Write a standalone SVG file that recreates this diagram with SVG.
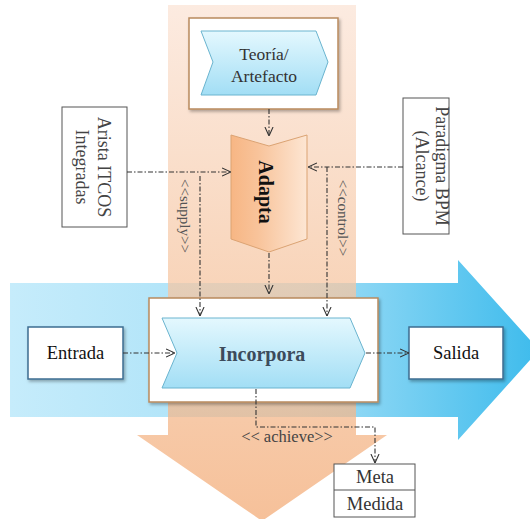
<svg xmlns="http://www.w3.org/2000/svg" width="530" height="519" viewBox="0 0 530 519" font-family="'Liberation Serif', 'DejaVu Serif', 'Times New Roman', serif">
<style>
text{font-family:"Liberation Serif","DejaVu Serif","Times New Roman",serif;}
.con{fill:none;stroke:#333;stroke-width:1.1;stroke-dasharray:5 2 1.5 2;marker-end:url(#arr);}
.outer{fill:#fff;stroke:#b98a5e;stroke-width:1.5;filter:url(#sh);}
.chev{fill:url(#gChev);stroke:#6ab4cf;stroke-width:1;}
.io{fill:#fff;stroke:#3d6d91;stroke-width:1.5;filter:url(#sh);}
.plain{fill:#fff;stroke:#555;stroke-width:1;}
.lbl{font-size:15px;fill:#555;text-anchor:middle;}
.rot{font-size:18px;fill:#444;text-anchor:middle;}
</style>
<defs>
<linearGradient id="gBlue" x1="10" y1="0" x2="540" y2="0" gradientUnits="userSpaceOnUse">
<stop offset="0" stop-color="#c6ecfb"/><stop offset="0.55" stop-color="#a3dff7"/><stop offset="1" stop-color="#3dbbec"/>
</linearGradient>
<linearGradient id="gOrange" x1="0" y1="5" x2="0" y2="519" gradientUnits="userSpaceOnUse">
<stop offset="0" stop-color="#fbe4d6"/><stop offset="0.55" stop-color="#f6c6a2"/><stop offset="1" stop-color="#f3ac78"/>
</linearGradient>
<linearGradient id="gChev" x1="0" y1="0" x2="0" y2="1">
<stop offset="0" stop-color="#e4f8fe"/><stop offset="1" stop-color="#a2def5"/>
</linearGradient>
<linearGradient id="gAdapta" x1="0" y1="0" x2="1" y2="0">
<stop offset="0" stop-color="#f7b684"/><stop offset="0.35" stop-color="#f8c39a"/><stop offset="1" stop-color="#fde6d3"/>
</linearGradient>
<filter id="sh" x="-10%" y="-10%" width="125%" height="130%">
<feDropShadow dx="1.5" dy="2" stdDeviation="1.5" flood-color="#000" flood-opacity="0.3"/>
</filter>
<marker id="arr" viewBox="0 0 10 10" refX="10" refY="5" markerWidth="9" markerHeight="10" markerUnits="userSpaceOnUse" orient="auto">
<path d="M0,0.5 L10,5 L0,9.5" fill="none" stroke="#333" stroke-width="1.2"/>
</marker>
</defs>

<g id="background">
<path d="M10,283 H458 V260 L539,350 L458,440 V417 H10 Z" fill="url(#gBlue)"/>
<path d="M168,5 H356 V435 H387 L262,521 L137,435 H168 Z" fill="url(#gOrange)" opacity="0.75"/>
</g>

<g id="teoria">
<rect class="outer" x="189" y="18" width="149" height="91"/>
<polygon class="chev" points="201,31 316,31 328,62 316,95 201,95 213,62"/>
<text x="264" y="60" font-size="17.5" fill="#333" text-anchor="middle">Teoría/</text>
<text x="264" y="82" font-size="17.5" fill="#333" text-anchor="middle">Artefacto</text>
</g>

<g id="adapta">
<polygon points="231,135 269,146 307,135 307,239 269,252 231,239" fill="url(#gAdapta)" stroke="#dba373" stroke-width="1"/>
<g transform="translate(265,192) rotate(90)"><text x="0" y="6" font-size="20" font-weight="bold" fill="#111" text-anchor="middle">Adapta</text></g>
</g>

<g id="arista">
<rect class="plain" x="62" y="107" width="65" height="120"/>
<g transform="translate(94,167) rotate(90)">
<text class="rot" x="0" y="-3.6">Arista ITCOS</text>
<text class="rot" x="0" y="18.4">Integradas</text>
</g>
</g>

<g id="paradigma">
<rect class="plain" x="403" y="98" width="46" height="136"/>
<g transform="translate(426,166) rotate(90)">
<text class="rot" x="0" y="-9.6">Paradigma BPM</text>
<text class="rot" x="0" y="10.4">(Alcance)</text>
</g>
</g>

<g id="incorpora">
<rect class="outer" x="149" y="298" width="229" height="104"/>
<polygon class="chev" points="162,318 350,318 365,353 350,388 162,388 177,353"/>
<text x="262" y="361" font-size="20" font-weight="bold" fill="#3c4b5b" text-anchor="middle">Incorpora</text>
</g>

<g id="entrada">
<rect class="io" x="28" y="327" width="95" height="52"/>
<text x="75.5" y="359" font-size="18.5" fill="#111" text-anchor="middle">Entrada</text>
</g>

<g id="salida">
<rect class="io" x="409" y="327" width="94" height="52"/>
<text x="456" y="359" font-size="18.5" fill="#111" text-anchor="middle">Salida</text>
</g>

<g id="meta">
<rect class="plain" x="334" y="464" width="81" height="53"/>
<line x1="334" y1="490" x2="415" y2="490" stroke="#555" stroke-width="1"/>
<text x="375" y="483" font-size="18.5" fill="#333" text-anchor="middle">Meta</text>
<text x="375" y="510" font-size="18.5" fill="#333" text-anchor="middle">Medida</text>
</g>

<g id="connectors">
<path class="con" d="M269,109 V136"/>
<path class="con" d="M127,172 H231"/>
<path class="con" d="M403,167 H308"/>
<path class="con" d="M200,176 V316"/>
<path class="con" d="M327,167 V316"/>
<path class="con" d="M269,253 V294"/>
<path class="con" d="M123,353 H175"/>
<path class="con" d="M366,353 H409"/>
<path class="con" d="M256,389 V427 H375 V463"/>
<g transform="translate(184,216) rotate(90)"><text class="lbl" x="0" y="4.5">&lt;&lt;supply&gt;&gt;</text></g>
<g transform="translate(342,218) rotate(90)"><text class="lbl" x="0" y="4.5">&lt;&lt;control&gt;&gt;</text></g>
<text x="287" y="442" font-size="16.5" fill="#444" text-anchor="middle">&lt;&lt; achieve&gt;&gt;</text>
</g>
</svg>
